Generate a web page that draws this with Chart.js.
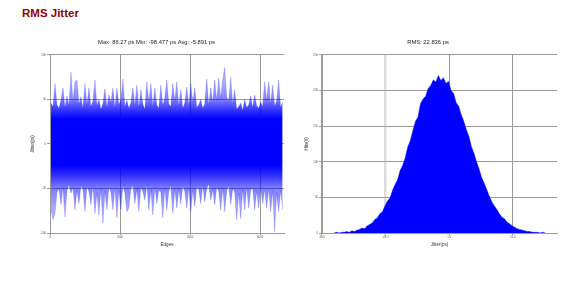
<!DOCTYPE html>
<html>
<head>
<meta charset="utf-8">
<script src="https://cdn.jsdelivr.net/npm/chart.js@4"></script>
<style>
  body { margin: 0; background: #fff; width: 582px; height: 284px; overflow: hidden; position: relative; }
  #title { position: absolute; left: 22px; top: 8px; font: bold 11.5px "Liberation Sans", Arial, sans-serif; line-height: 11.5px; color: #990000; }
  canvas { position: absolute; }
</style>
</head>
<body>
<div id="title">RMS Jitter</div>
<canvas id="jitterChart" width="262" height="225" style="left:29px;top:30px"></canvas>
<canvas id="histChart" width="262" height="225" style="left:299px;top:30px"></canvas>
<script>
// jitter trace, read as per-column min / max envelope (one column = 57 edges)
const edgeStep = 57;
const edgeCount = 6680;
const jitterMax = [46, 42, 68, 44, 40, 49, 63, 41, 54, 43, 81, 47, 70, 72, 45, 53, 40, 68, 44, 63,
  42, 48, 72, 43, 50, 39, 45, 62, 41, 55, 46, 63, 40, 63, 44, 50, 73, 42, 49, 40,
  46, 63, 43, 66, 41, 61, 45, 39, 70, 47, 68, 42, 63, 44, 40, 66, 43, 52, 72, 45,
  42, 68, 48, 70, 43, 61, 40, 46, 64, 43, 68, 47, 63, 41, 44, 50, 40, 45, 73, 43,
  63, 47, 72, 49, 74, 51, 72, 86, 53, 48, 75, 45, 61, 39, 42, 46, 38, 50, 41, 44,
  54, 41, 55, 43, 40, 47, 42, 70, 49, 70, 45, 66, 43, 48, 72, 41, 47];
const jitterMin = [-74, -85, -78, -54, -50, -68, -48, -82, -52, -46, -55, -49, -74, -52, -67, -47, -51, -76, -48, -53,
  -68, -46, -78, -55, -80, -50, -89, -53, -74, -48, -54, -74, -49, -83, -52, -74, -46, -55, -76, -72,
  -50, -47, -67, -51, -76, -48, -53, -63, -45, -74, -51, -80, -48, -67, -52, -54, -83, -49, -74, -53,
  -46, -78, -50, -72, -51, -67, -47, -53, -72, -49, -76, -52, -70, -48, -51, -67, -46, -65, -50, -45,
  -63, -51, -68, -48, -53, -74, -49, -76, -52, -47, -68, -50, -54, -85, -55, -84, -51, -74, -48, -72,
  -52, -49, -74, -53, -72, -48, -67, -51, -72, -50, -76, -53, -98.5, -55, -76, -52, -74];
const jitterTicks = [100, 50, 0, -50, -100];
const edgeTicks = [0, 2000, 4000, 6000];

// histogram of jitter, 2 ps bins starting at -89 ps
const histStart = -89;
const binWidth = 2;
const hitCounts = [0, 1, 0, 1, 1, 2, 1, 3, 2, 4, 5, 7, 6, 10, 12, 14, 19, 21, 27, 30,
  38, 45, 49, 60, 68, 75, 88, 95, 106, 121, 130, 144, 157, 163, 182, 188, 192, 203, 207, 215,
  212, 221, 214, 218, 210, 213, 200, 196, 183, 178, 166, 157, 145, 136, 121, 112, 100, 90, 78, 70,
  61, 52, 44, 38, 33, 27, 22, 20, 15, 13, 10, 8, 6, 5, 4, 3, 2, 2, 1, 1, 1, 0, 1, 0];
const jitterAxisTicks = [-98.5, -48.5, 1.5, 51.5];
const hitTicks = [0, 50, 100, 150, 200, 250];

const FONT = '"Liberation Sans", Arial, sans-serif';
const GRID = '#9a9a9a';

function jitterFill(ctx) {
  const chart = ctx.chart;
  const y = chart.scales.y;
  if (!chart.chartArea || !y) return 'rgba(0,0,255,0.8)';
  const g = chart.ctx.createLinearGradient(0, y.getPixelForValue(100), 0, y.getPixelForValue(-100));
  const stop = (v, a) => g.addColorStop((100 - v) / 200, 'rgba(0,0,255,' + a + ')');
  stop(100, 0.25); stop(65, 0.35); stop(50, 0.5); stop(38, 0.8); stop(28, 1);
  stop(-24, 1); stop(-36, 0.8); stop(-50, 0.5); stop(-70, 0.35); stop(-100, 0.25);
  return g;
}

function axisTitle(text, pad) {
  return { display: true, text: text, color: '#333', font: { family: FONT, size: 4.5 }, padding: pad };
}
function tickFont() {
  return { family: FONT, size: 2.8 };
}

function makeChart(id, cfg) {
  return new Chart(document.getElementById(id), {
    type: 'line',
    data: { datasets: cfg.datasets },
    options: {
      responsive: false,
      animation: false,
      devicePixelRatio: 1,
      layout: { padding: { left: 0, right: cfg.padRight, top: 0, bottom: 0 } },
      elements: { point: { radius: 0 }, line: { tension: 0 } },
      plugins: {
        legend: { display: false },
        tooltip: { enabled: false },
        title: {
          display: true, text: cfg.title, color: '#222',
          font: { family: FONT, size: 5.8, weight: 'normal' },
          padding: { top: 9.2, bottom: 8.8 }
        }
      },
      scales: {
        x: {
          type: 'linear', offset: false, min: cfg.xMin, max: cfg.xMax,
          afterBuildTicks: (s) => { s.ticks = cfg.xTicks.map((v) => ({ value: v })); },
          afterFit: (s) => { s.height = 22; },
          ticks: { color: '#555', font: tickFont(), padding: 1, maxRotation: 0,
            callback: (v) => String(v) },
          grid: { color: cfg.xGridColor || GRID, lineWidth: cfg.xGridWidth || 1, tickLength: 2 },
          border: { color: GRID },
          title: axisTitle(cfg.xTitle, { top: 0, bottom: 7.3 })
        },
        y: {
          min: cfg.yMin, max: cfg.yMax,
          afterBuildTicks: (s) => { s.ticks = cfg.yTicks.map((v) => ({ value: v })); },
          afterFit: (s) => { s.width = cfg.yWidth; },
          ticks: { color: '#555', font: tickFont(), padding: 1 },
          grid: { color: GRID, tickLength: 3 },
          border: { color: GRID },
          title: axisTitle(cfg.yTitle, { top: cfg.yTitlePad, bottom: 0 })
        }
      }
    }
  });
}

const columnX = (i) => i * edgeStep + edgeStep / 2;

makeChart('jitterChart', {
  title: 'Max: 86.27 ps Min: -98.477 ps Avg: -5.891 ps',
  datasets: [
    {
      data: jitterMax.map((v, i) => ({ x: columnX(i), y: v })),
      backgroundColor: jitterFill,
      borderColor: 'rgba(0,0,255,0.3)',
      borderWidth: 0.6,
      fill: '+1'
    },
    {
      data: jitterMin.map((v, i) => ({ x: columnX(i), y: v })),
      borderColor: 'rgba(0,0,255,0.3)',
      borderWidth: 0.6,
      fill: false
    }
  ],
  xMin: 0, xMax: edgeCount, xTicks: edgeTicks, xTitle: 'Edges',
  yMin: -100, yMax: 100, yTicks: jitterTicks, yTitle: 'Jitter(ps)',
  yWidth: 21, yTitlePad: 0.6, padRight: 7
});

makeChart('histChart', {
  title: 'RMS: 22.836 ps',
  datasets: [
    {
      data: hitCounts.map((c, i) => ({ x: histStart + i * binWidth, y: c })),
      backgroundColor: '#0000ff',
      borderColor: 'rgba(0,0,255,0.55)',
      borderWidth: 0.8,
      fill: 'origin'
    }
  ],
  xMin: -98.477, xMax: 86.27, xTicks: jitterAxisTicks, xTitle: 'Jitter(ps)',
  xGridColor: (c) => (c.index === 1 ? '#dcdcdc' : GRID),
  xGridWidth: (c) => (c.index === 1 ? 2.5 : 1),
  yMin: 0, yMax: 250, yTicks: hitTicks, yTitle: 'Hits(#)',
  yWidth: 23, yTitlePad: 5, padRight: 4
});
</script>
</body>
</html>
